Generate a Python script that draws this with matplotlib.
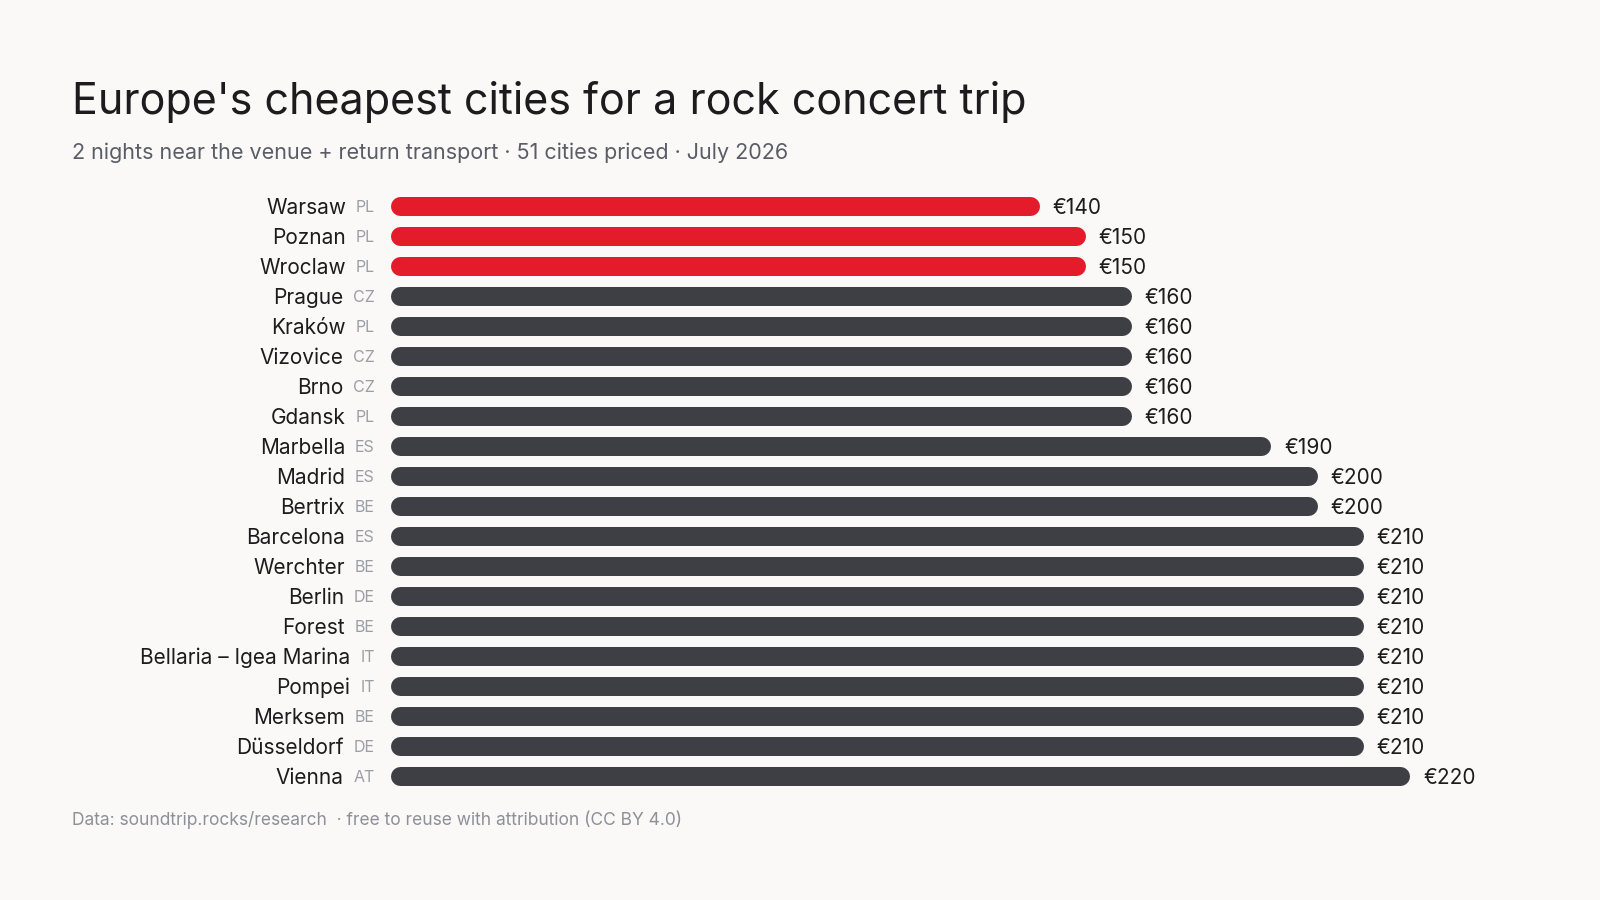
import matplotlib.pyplot as plt

plt.rcParams["font.family"] = ["Inter", "DejaVu Sans"]

# Data
cities = [
    "Warsaw", "Poznan", "Wroclaw", "Prague", "Kraków", "Vizovice", "Brno",
    "Gdansk", "Marbella", "Madrid", "Bertrix", "Barcelona", "Werchter",
    "Berlin", "Forest", "Bellaria – Igea Marina", "Pompei", "Merksem",
    "Düsseldorf", "Vienna",
]
countries = [
    "PL", "PL", "PL", "CZ", "PL", "CZ", "CZ", "PL", "ES", "ES", "BE", "ES",
    "BE", "DE", "BE", "IT", "IT", "BE", "DE", "AT",
]
prices = [140, 150, 150, 160, 160, 160, 160, 160, 190, 200, 200, 210, 210,
          210, 210, 210, 210, 210, 210, 220]
highlight = [True, True, True] + [False] * 17

bg = "#faf9f7"
red = "#e31b2a"
dark = "#3e3f45"
text_dark = "#1c1c1e"
grey = "#9b9ea6"

W, H, DPI = 16, 9, 100
fig = plt.figure(figsize=(W, H), dpi=DPI, facecolor=bg)

# axes placed so bars start at x=390px with 30px row pitch
ax_left_px, ax_w_px = 390, 240 * 4.636
ax_top_px, ax_h_px = 191, 600
ax = fig.add_axes([ax_left_px / 1600, 1 - (ax_top_px + ax_h_px) / 900,
                   ax_w_px / 1600, ax_h_px / 900])
ax.set_facecolor(bg)
ax.set_xlim(0, 240)
ax.set_ylim(len(cities) - 0.5, -0.5)
ax.axis("off")

bar_px = 19
lw_pt = bar_px * 72 / DPI
px_per_unit = ax_w_px / 240
r = (bar_px / 2) / px_per_unit  # round caps add this much on each end

# text sits on its baseline, shifted down by half the cap height
label_fs, code_fs = 15, 11.5
label_dy = -0.727 * label_fs / 2
code_dy = -0.727 * code_fs / 2

code_texts = []
for i, (cc, p, hl) in enumerate(zip(countries, prices, highlight)):
    ax.plot([r, p - r], [i, i], color=red if hl else dark, lw=lw_pt,
            solid_capstyle="round")
    ax.annotate(f"€{p}", xy=(p, i), xytext=(9.5, label_dy), textcoords="offset points",
                ha="left", va="baseline", fontsize=label_fs, color=text_dark)
    code_texts.append(ax.annotate(cc, xy=(0, i), xytext=(-11, code_dy),
                                  textcoords="offset points", ha="right",
                                  va="baseline", fontsize=code_fs, color=grey))

fig.text(72 / 1600, 1 - 114 / 900, "Europe's cheapest cities for a rock concert trip",
         fontsize=31, color=text_dark, ha="left", va="baseline")
fig.text(72 / 1600, 1 - 159 / 900,
         "2 nights near the venue + return transport · 51 cities priced · July 2026",
         fontsize=15.5, color="#5a5d66", ha="left", va="baseline")
fig.text(72 / 1600, 1 - 825 / 900,
         "Data: soundtrip.rocks/research  · free to reuse with attribution (CC BY 4.0)",
         fontsize=12.5, color="#8d9099", ha="left", va="baseline")

# city names end 7pt left of their country code
fig.canvas.draw()
renderer = fig.canvas.get_renderer()
for i, (city, code) in enumerate(zip(cities, code_texts)):
    bb = code.get_window_extent(renderer)
    x_px = bb.x0 - 7 * DPI / 72
    y_px = ax.transData.transform((0, i))[1] + label_dy * DPI / 72
    fig.text(x_px / (W * DPI), y_px / (H * DPI), city, ha="right", va="baseline",
             fontsize=label_fs, color=text_dark)

fig.savefig("out.png", dpi=DPI, facecolor=bg)
